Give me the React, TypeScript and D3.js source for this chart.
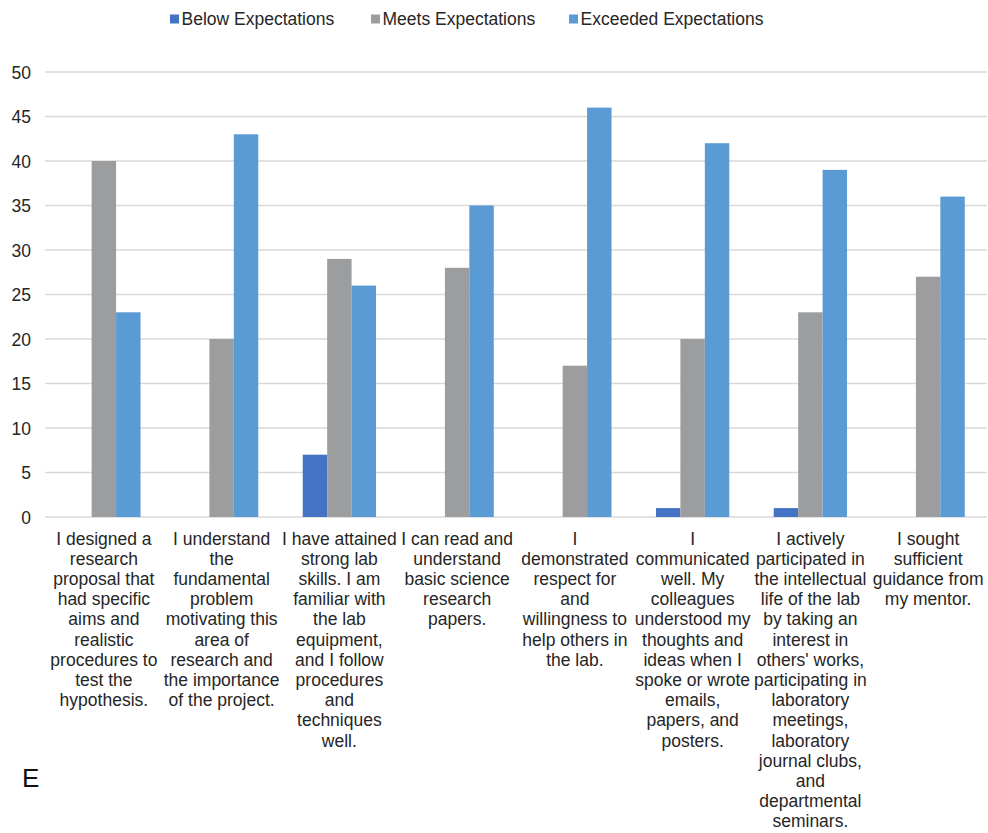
import React from "react";
import * as d3 from "d3";

const categories: string[][] = [
  ["I designed a", "research", "proposal that", "had specific", "aims and", "realistic", "procedures to", "test the", "hypothesis."],
  ["I understand", "the", "fundamental", "problem", "motivating this", "area of", "research and", "the importance", "of the project."],
  ["I have attained", "strong lab", "skills. I am", "familiar with", "the lab", "equipment,", "and I follow", "procedures", "and", "techniques", "well."],
  ["I can read and", "understand", "basic science", "research", "papers."],
  ["I", "demonstrated", "respect for", "and", "willingness to", "help others in", "the lab."],
  ["I", "communicated", "well. My", "colleagues", "understood my", "thoughts and", "ideas when I", "spoke or wrote", "emails,", "papers, and", "posters."],
  ["I actively", "participated in", "the intellectual", "life of the lab", "by taking an", "interest in", "others' works,", "participating in", "laboratory", "meetings,", "laboratory", "journal clubs,", "and", "departmental", "seminars."],
  ["I sought", "sufficient", "guidance from", "my mentor."],
];

const seriesNames = ["Below Expectations", "Meets Expectations", "Exceeded Expectations"];
const below = [0, 0, 7, 0, 0, 1, 1, 0];
const meets = [40, 20, 29, 28, 17, 20, 23, 27];
const exceeded = [23, 43, 26, 35, 46, 42, 39, 36];
const yTicks = [0, 5, 10, 15, 20, 25, 30, 35, 40, 45, 50];

const colors = ["#4472C4", "#9C9D9F", "#5B9BD5"];
const legendX = [170, 371, 569];

export default function App() {
  const width = 988;
  const height = 833;
  const left = 45;
  const right = 987;
  const top = 72;
  const bottom = 517;
  const font = "'Liberation Sans', Arial, sans-serif";
  const textColor = "#262626";
  const fs = 17.5;

  const series = [below, meets, exceeded];
  const idx = categories.map((_, i) => i);

  const x = d3.scaleBand<number>().domain(idx).range([left, right]).paddingInner(0).paddingOuter(0);
  const inner = d3
    .scaleBand<number>()
    .domain([0, 1, 2])
    .range([0, x.bandwidth()])
    .paddingInner(0)
    .paddingOuter(0.91);
  const y = d3.scaleLinear().domain([0, 50]).range([bottom, top]);

  return (
    <svg width={width} height={height} style={{ position: "absolute", left: 0, top: 0, background: "#fff" }}>
      {/* legend */}
      {seriesNames.map((name, i) => (
        <g key={name}>
          <rect x={legendX[i]} y={14.5} width={9} height={9} fill={colors[i]} />
          <text x={legendX[i] + 11.5} y={25} fontFamily={font} fontSize={fs} fill={textColor}>
            {name}
          </text>
        </g>
      ))}

      {/* gridlines */}
      {yTicks.map((t) => (
        <g key={t}>
          <line x1={left} x2={right} y1={y(t)} y2={y(t)} stroke="#d9d9d9" strokeWidth={1.3} />
          <text x={31} y={y(t) + 6.5} textAnchor="end" fontFamily={font} fontSize={fs} fill={textColor}>
            {t}
          </text>
        </g>
      ))}

      {/* bars */}
      {idx.map((ci) =>
        series.map((s, si) => {
          const v = s[ci];
          if (v <= 0) return null;
          const bx = (x(ci) as number) + (inner(si) as number);
          return (
            <rect
              key={`${ci}-${si}`}
              x={bx}
              y={y(v)}
              width={inner.bandwidth()}
              height={y(0) - y(v)}
              fill={colors[si]}
            />
          );
        })
      )}

      {/* category labels */}
      {categories.map((lines, ci) => (
        <text
          key={ci}
          x={(x(ci) as number) + x.bandwidth() / 2}
          y={544.5}
          textAnchor="middle"
          fontFamily={font}
          fontSize={fs}
          fill={textColor}
        >
          {lines.map((ln, li) => (
            <tspan key={li} x={(x(ci) as number) + x.bandwidth() / 2} dy={li === 0 ? 0 : 20.2}>
              {ln}
            </tspan>
          ))}
        </text>
      ))}

      <text x={22} y={787} fontFamily={font} fontSize={26} fill="#111">
        E
      </text>
    </svg>
  );
}
